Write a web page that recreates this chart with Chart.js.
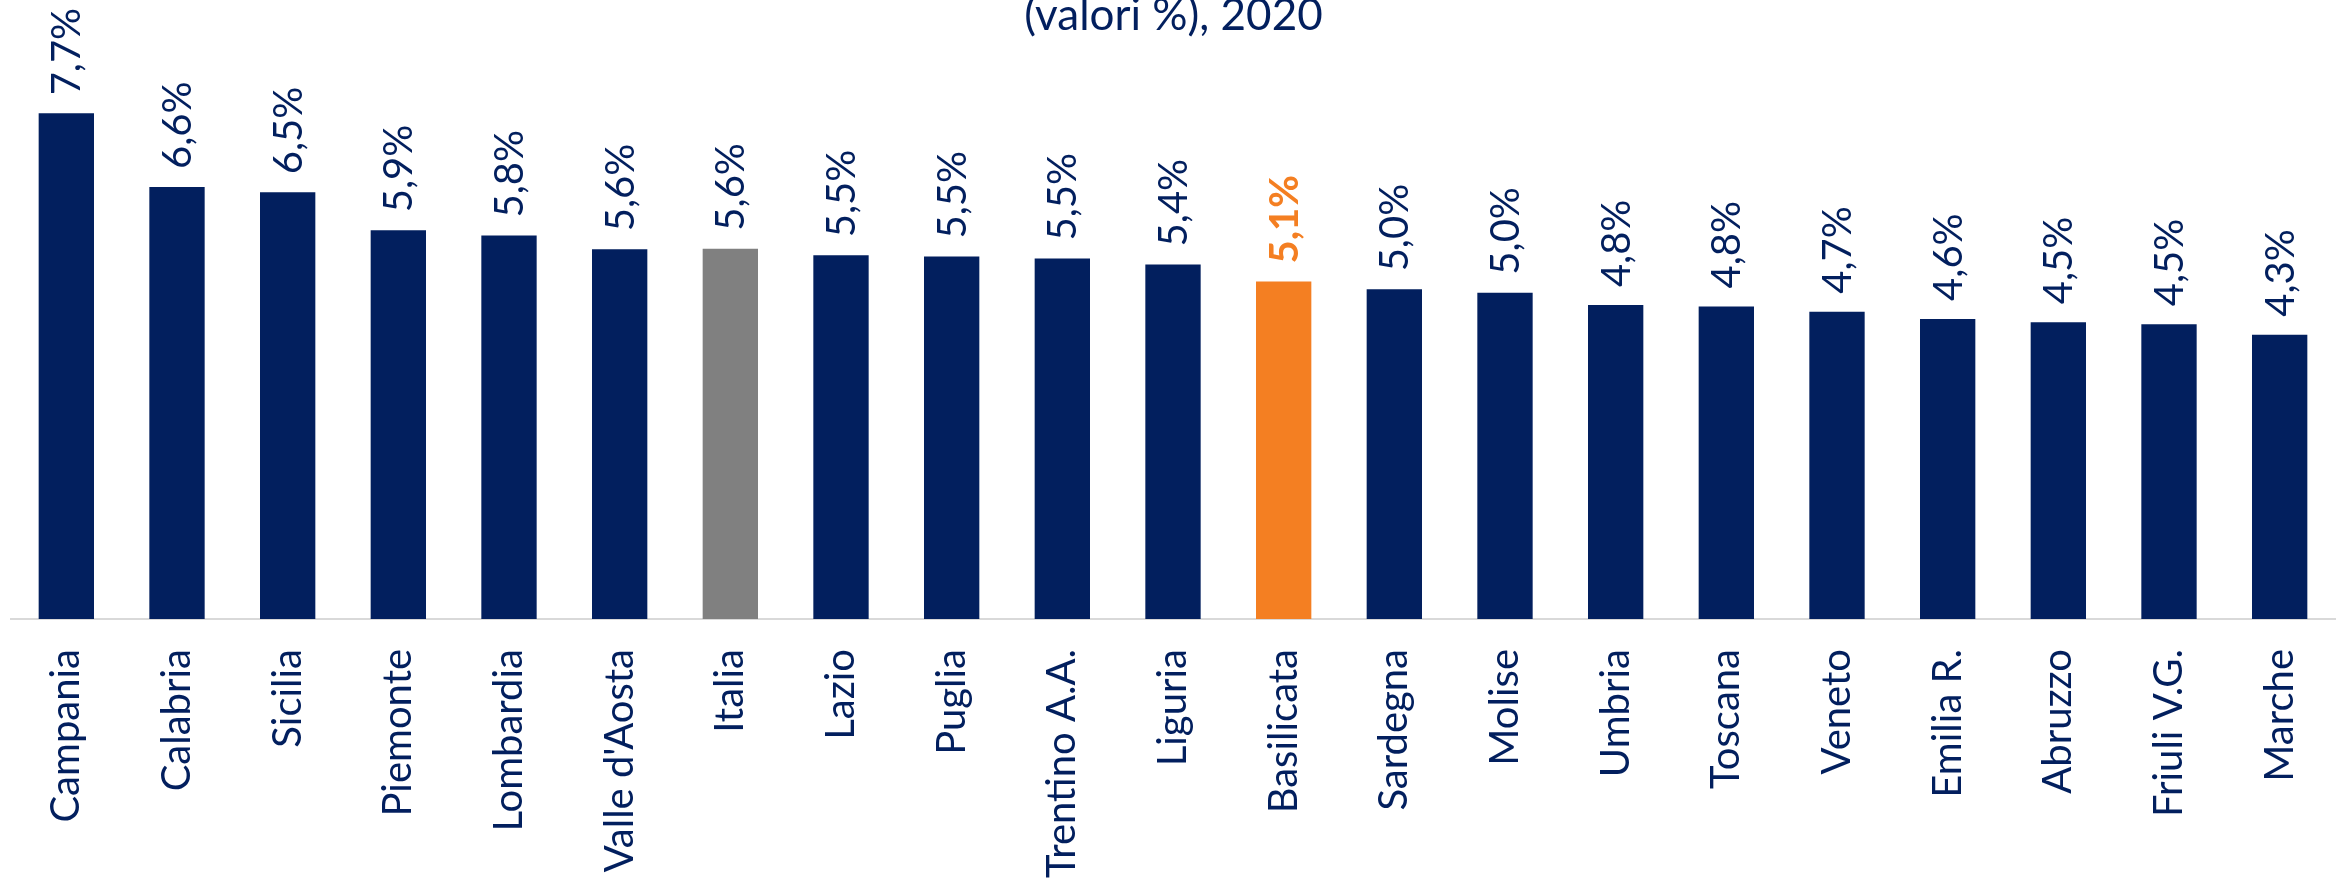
<!DOCTYPE html>
<html>
<head>
<meta charset="utf-8">
<script src="https://cdn.jsdelivr.net/npm/chart.js@4.4.1/dist/chart.umd.min.js"></script>
<style>
  html, body { margin: 0; padding: 0; background: #ffffff; }
  #wrap { width: 2343px; height: 880px; position: relative; }
</style>
</head>
<body>
<div id="wrap"><canvas id="c" width="2343" height="880"></canvas></div>
<script>
const categories = ["Campania", "Calabria", "Sicilia", "Piemonte", "Lombardia", "Valle d'Aosta", "Italia", "Lazio", "Puglia", "Trentino A.A.", "Liguria", "Basilicata", "Sardegna", "Molise", "Umbria", "Toscana", "Veneto", "Emilia R.", "Abruzzo", "Friuli V.G.", "Marche"];
const values = [7.70, 6.58, 6.50, 5.92, 5.84, 5.63, 5.64, 5.54, 5.52, 5.49, 5.40, 5.14, 5.02, 4.97, 4.78, 4.76, 4.68, 4.57, 4.52, 4.49, 4.33];
const titleText = "(valori %), 2020";

const NAVY = "#021F5E";
const GREY = "#808080";
const ORANGE = "#F47F22";
const FONT = "Lato, 'Open Sans', sans-serif";

const barColors = categories.map(c => c === "Italia" ? GREY : (c === "Basilicata" ? ORANGE : NAVY));

function fmt(v) {
  return (Math.round(v * 10) / 10).toFixed(1).replace('.', ',') + '%';
}

const valueLabels = {
  id: 'valueLabels',
  afterDatasetsDraw(chart) {
    const ctx = chart.ctx;
    const meta = chart.getDatasetMeta(0);
    meta.data.forEach((bar, i) => {
      const isB = categories[i] === "Basilicata";
      ctx.save();
      ctx.font = (isB ? "bold " : "") + "40px " + FONT;
      ctx.fillStyle = isB ? ORANGE : NAVY;
      ctx.translate(bar.x, bar.y - 18);
      ctx.rotate(-Math.PI / 2);
      ctx.textAlign = 'left';
      ctx.textBaseline = 'alphabetic';
      ctx.fillText(fmt(values[i]), 0, 14);
      ctx.restore();
    });
  }
};

const titlePlugin = {
  id: 'topTitle',
  afterDraw(chart) {
    const ctx = chart.ctx;
    ctx.save();
    ctx.font = "44px " + FONT;
    ctx.fillStyle = NAVY;
    ctx.textAlign = 'center';
    ctx.textBaseline = 'alphabetic';
    ctx.fillText(titleText, chart.width / 2 + 2, 30);
    ctx.restore();
  }
};

new Chart(document.getElementById('c'), {
  type: 'bar',
  data: {
    labels: categories,
    datasets: [{
      data: values,
      backgroundColor: barColors,
      borderWidth: 0,
      barPercentage: 1.0,
      categoryPercentage: 0.5
    }]
  },
  options: {
    responsive: false,
    animation: false,
    events: [],
    layout: { padding: { top: 28, left: 11, right: 8, bottom: 0 } },
    plugins: {
      legend: { display: false },
      title: { display: false },
      tooltip: { enabled: false }
    },
    scales: {
      x: {
        grid: { display: false, drawTicks: false },
        border: { display: true, color: "#D9D9D9", width: 2 },
        ticks: {
          color: NAVY,
          font: { family: FONT, size: 40 },
          minRotation: 90,
          maxRotation: 90,
          autoSkip: false,
          padding: 30
        },
        afterFit(scale) {
          scale.height = 261;
          scale.paddingLeft = 0;
          scale.paddingRight = 0;
        }
      },
      y: {
        display: false,
        min: 0,
        max: 9
      }
    }
  },
  plugins: [valueLabels, titlePlugin]
});
</script>
</body>
</html>
